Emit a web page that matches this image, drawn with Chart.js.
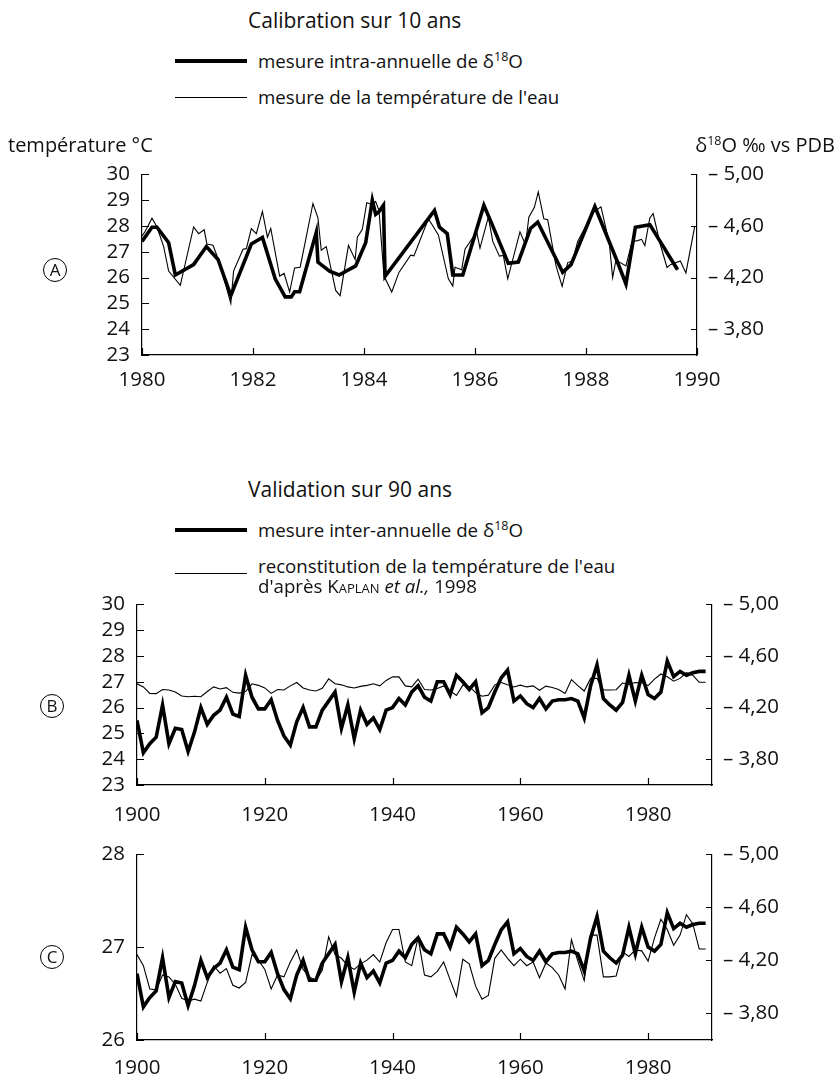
<!DOCTYPE html>
<html lang="fr">
<head>
<meta charset="utf-8">
<script src="https://cdn.jsdelivr.net/npm/chart.js@4.4.1/dist/chart.umd.min.js"></script>
<style>
  body { margin: 0; width: 837px; height: 1080px; background: #fff; font-family: "Open Sans", sans-serif; color: #111; position: relative; overflow: hidden; }
  .t { position: absolute; font-size: 18.7px; white-space: nowrap; line-height: 1; transform: translateY(-50%); }
  .t.big { font-size: 21px; }
  .t.ax { font-size: 20px; }
  .t sup { font-size: 12.5px; vertical-align: 7px; line-height: 0; }
  .ln { position: absolute; left: 175px; width: 72px; background: #000; }
  canvas { position: absolute; left: 0; }
  .circ { position: absolute; width: 22px; height: 22px; border: 1px solid #000; border-radius: 50%; font-size: 17px; text-align: center; line-height: 22px; transform: translate(-50%, -50%); }
</style>
</head>
<body>
<canvas id="chartA" width="837" height="250" style="top:150px"></canvas>
<canvas id="chartB" width="837" height="250" style="top:580px"></canvas>
<canvas id="chartC" width="837" height="250" style="top:830px"></canvas>

<div class="t big" style="left:248px; top:20px">Calibration sur 10 ans</div>
<div class="ln" style="top:59px; height:4px"></div>
<div class="t" style="left:258px; top:61px">mesure intra-annuelle de δ<sup>18</sup>O</div>
<div class="ln" style="top:97px; height:1px"></div>
<div class="t" style="left:258px; top:97px">mesure de la température de l'eau</div>
<div class="t ax" style="left:8px; top:145px">température °C</div>
<div class="t ax" style="right:2px; top:145px">δ<sup>18</sup>O ‰ vs PDB</div>
<div class="circ" style="left:55px; top:270px">A</div>

<div class="t big" style="left:248px; top:489px">Validation sur 90 ans</div>
<div class="ln" style="top:528px; height:4px"></div>
<div class="t" style="left:258px; top:530px">mesure inter-annuelle de δ<sup>18</sup>O</div>
<div class="ln" style="top:573px; height:1px"></div>
<div class="t" style="left:258px; top:566px">reconstitution de la température de l'eau</div>
<div class="t" style="left:258px; top:586px">d'après <span style="font-variant:small-caps">Kaplan</span> <i>et al.,</i> 1998</div>
<div class="circ" style="left:52px; top:706px">B</div>
<div class="circ" style="left:52px; top:957px">C</div>

<script>
// Calibration 1980-1990 : d18O intra-annuel (permil) et temperature mesuree (degC)
const aIsoYears = [1980.0, 1980.18, 1980.27, 1980.48, 1980.6, 1980.93, 1981.16, 1981.37, 1981.6, 1981.97,
    1982.17, 1982.4, 1982.58, 1982.69, 1982.75, 1982.84, 1983.14, 1983.17, 1983.38, 1983.55,
    1983.85, 1984.03, 1984.15, 1984.21, 1984.27, 1984.35, 1984.38, 1985.27, 1985.36, 1985.5,
    1985.6, 1985.78, 1986.16, 1986.3, 1986.6, 1986.78, 1987.0, 1987.13, 1987.58, 1987.73,
    1988.16, 1988.54, 1988.72, 1988.89, 1989.15, 1989.65];
const aIso = [-4.48, -4.59, -4.59, -4.47, -4.22, -4.30, -4.44, -4.34, -4.06, -4.46,
    -4.51, -4.19, -4.05, -4.05, -4.09, -4.09, -4.55, -4.32, -4.25, -4.22,
    -4.29, -4.47, -4.80, -4.69, -4.71, -4.76, -4.21, -4.72, -4.59, -4.54,
    -4.22, -4.22, -4.76, -4.62, -4.31, -4.32, -4.58, -4.63, -4.24, -4.30,
    -4.75, -4.35, -4.15, -4.59, -4.61, -4.26];

const aTempYears = [1980.0, 1980.06, 1980.18, 1980.27, 1980.39, 1980.48, 1980.69, 1980.93, 1981.02, 1981.12,
    1981.17, 1981.28, 1981.4, 1981.6, 1981.65, 1981.82, 1981.88, 1981.97, 1982.06, 1982.17,
    1982.26, 1982.32, 1982.48, 1982.56, 1982.66, 1982.75, 1982.85, 1983.08, 1983.17, 1983.23,
    1983.32, 1983.49, 1983.57, 1983.72, 1983.84, 1983.88, 1983.97, 1984.05, 1984.13, 1984.21,
    1984.27, 1984.36, 1984.5, 1984.63, 1984.84, 1984.9, 1985.16, 1985.34, 1985.52, 1985.6,
    1985.64, 1985.76, 1985.82, 1986.03, 1986.09, 1986.24, 1986.32, 1986.44, 1986.51, 1986.59,
    1986.81, 1986.91, 1986.97, 1987.07, 1987.14, 1987.24, 1987.31, 1987.46, 1987.57, 1987.67,
    1987.76, 1987.85, 1988.13, 1988.27, 1988.42, 1988.48, 1988.54, 1988.72, 1988.83, 1988.93,
    1989.0, 1989.06, 1989.15, 1989.21, 1989.34, 1989.46, 1989.52, 1989.7, 1989.8, 1989.96];
const aTemp = [27.6, 27.8, 28.3, 27.96, 27.2, 26.25, 25.7, 27.96, 27.7, 27.85,
    27.3, 27.25, 26.56, 25.0, 26.25, 27.1, 27.12, 27.9, 27.7, 28.56,
    27.56, 27.9, 26.06, 26.16, 25.44, 26.37, 26.4, 28.87, 28.31, 27.06,
    27.2, 25.5, 25.3, 27.25, 26.7, 27.56, 27.87, 28.9, 28.84, 28.94,
    28.6, 26.06, 25.44, 26.2, 26.87, 26.84, 28.28, 27.65, 25.95, 25.67,
    26.4, 26.3, 27.1, 27.77, 27.14, 28.34, 27.4, 26.83, 26.86, 25.95,
    27.77, 27.27, 28.34, 28.72, 29.32, 28.28, 28.24, 26.45, 25.66, 26.58,
    26.64, 27.4, 28.53, 28.74, 27.33, 26.0, 26.68, 26.45, 27.4, 27.43,
    27.48, 27.24, 28.31, 28.48, 27.27, 26.39, 26.5, 26.64, 26.18, 27.99];

// Validation 1900-1989 : d18O inter-annuel et reconstitution Kaplan et al. 1998
const years = [1900, 1901, 1902, 1903, 1904, 1905, 1906, 1907, 1908, 1909,
    1910, 1911, 1912, 1913, 1914, 1915, 1916, 1917, 1918, 1919,
    1920, 1921, 1922, 1923, 1924, 1925, 1926, 1927, 1928, 1929,
    1930, 1931, 1932, 1933, 1934, 1935, 1936, 1937, 1938, 1939,
    1940, 1941, 1942, 1943, 1944, 1945, 1946, 1947, 1948, 1949,
    1950, 1951, 1952, 1953, 1954, 1955, 1956, 1957, 1958, 1959,
    1960, 1961, 1962, 1963, 1964, 1965, 1966, 1967, 1968, 1969,
    1970, 1971, 1972, 1973, 1974, 1975, 1976, 1977, 1978, 1979,
    1980, 1981, 1982, 1983, 1984, 1985, 1986, 1987, 1988, 1989];
const isoAnnual = [-4.10, -3.85, -3.92, -3.97, -4.22, -3.92, -4.04, -4.03, -3.86, -4.01,
    -4.20, -4.07, -4.14, -4.18, -4.28, -4.15, -4.13, -4.45, -4.28, -4.19,
    -4.19, -4.26, -4.10, -3.98, -3.91, -4.09, -4.20, -4.05, -4.05, -4.18,
    -4.25, -4.32, -4.04, -4.22, -3.96, -4.18, -4.07, -4.12, -4.03, -4.18,
    -4.20, -4.27, -4.22, -4.32, -4.37, -4.28, -4.25, -4.40, -4.40, -4.30,
    -4.45, -4.40, -4.34, -4.40, -4.16, -4.20, -4.32, -4.43, -4.49, -4.25,
    -4.29, -4.23, -4.20, -4.27, -4.19, -4.25, -4.26, -4.26, -4.27, -4.25,
    -4.12, -4.37, -4.53, -4.27, -4.22, -4.18, -4.24, -4.45, -4.25, -4.45,
    -4.30, -4.27, -4.32, -4.56, -4.44, -4.48, -4.45, -4.47, -4.48, -4.48];
const kaplanTemp = [26.92, 26.80, 26.55, 26.54, 26.70, 26.68, 26.60, 26.45, 26.42, 26.44,
    26.42, 26.62, 26.80, 26.72, 26.77, 26.59, 26.56, 26.62, 26.92, 26.86,
    26.76, 26.55, 26.70, 26.68, 26.84, 26.97, 26.76, 26.68, 26.64, 26.75,
    27.11, 26.92, 26.88, 26.80, 26.76, 26.82, 26.86, 26.92, 26.84, 27.05,
    27.19, 27.19, 26.84, 26.80, 27.10, 26.70, 26.68, 26.74, 26.84, 26.65,
    26.47, 26.87, 26.82, 26.58, 26.44, 26.48, 26.88, 26.97, 26.88, 26.80,
    26.87, 26.80, 26.84, 26.67, 26.83, 26.78, 26.70, 26.55, 27.08, 26.85,
    26.64, 27.13, 27.13, 26.68, 26.68, 26.69, 26.95, 26.90, 26.97, 26.96,
    26.85, 27.10, 27.30, 27.19, 27.02, 27.13, 27.35, 27.25, 26.98, 26.98];

// graduations
const aXTicks = [1980, 1982, 1984, 1986, 1988, 1990];
const bXTicks = [1900, 1920, 1940, 1960, 1980];
const tempTicksAB = [23, 24, 25, 26, 27, 28, 29, 30];
const tempTicksC = [26, 27, 28];
const isoTicks = [-5.0, -4.6, -4.2, -3.8];
const isoTickLabels = ['– 5,00', '– 4,60', '– 4,20', '– 3,80'];

const tickFont = { family: 'Open Sans', size: 20.5 };
const ink = '#111';

const pts = (xs, ys) => xs.map((x, i) => ({ x: x, y: ys[i] }));
const setTicks = values => scale => { scale.ticks = values.map(v => ({ value: v })); };

// petites graduations tournees vers l'interieur
const inTicks = {
    id: 'inTicks',
    afterDraw(chart) {
        const { ctx, chartArea: a, scales } = chart;
        ctx.save();
        ctx.strokeStyle = '#000';
        ctx.lineWidth = 1.2;
        ctx.beginPath();
        scales.x.ticks.forEach(t => {
            const p = Math.round(scales.x.getPixelForValue(t.value)) + 0.5;
            ctx.moveTo(p, a.bottom);
            ctx.lineTo(p, a.bottom - 7);
        });
        scales.y.ticks.forEach(t => {
            const p = Math.round(scales.y.getPixelForValue(t.value)) + 0.5;
            ctx.moveTo(a.left, p);
            ctx.lineTo(a.left + 7, p);
        });
        scales.y1.ticks.forEach(t => {
            const p = Math.round(scales.y1.getPixelForValue(t.value)) + 0.5;
            ctx.moveTo(a.right, p);
            ctx.lineTo(a.right - 6, p);
        });
        ctx.stroke();
        ctx.restore();
    }
};

function makePanel(id, cfg) {
    return new Chart(document.getElementById(id), {
        type: 'line',
        data: {
            datasets: [
                { data: pts(cfg.isoX, cfg.iso), yAxisID: 'y1', borderColor: '#000', borderWidth: 3.6, pointRadius: 0, tension: 0 },
                { data: pts(cfg.tempX, cfg.temp), yAxisID: 'y', borderColor: '#000', borderWidth: 1.1, pointRadius: 0, tension: 0 }
            ]
        },
        options: {
            responsive: false,
            animation: false,
            events: [],
            layout: { padding: { top: cfg.padTop } },
            plugins: { legend: { display: false }, tooltip: { enabled: false } },
            scales: {
                x: {
                    type: 'linear', min: cfg.xMin, max: cfg.xMax,
                    afterBuildTicks: setTicks(cfg.xTicks),
                    afterFit: s => { s.height = cfg.xAxisH; },
                    grid: { display: false, drawTicks: false },
                    border: { color: '#000', width: 1.2 },
                    ticks: { padding: cfg.xPad, font: tickFont, color: ink, autoSkip: false, maxRotation: 0, callback: v => String(v) }
                },
                y: {
                    position: 'left', min: cfg.tMin, max: cfg.tMax,
                    afterBuildTicks: setTicks(cfg.tTicks),
                    afterFit: s => { s.width = cfg.left; },
                    grid: { display: false, drawTicks: false },
                    border: { color: '#000', width: 1.2 },
                    ticks: { padding: 12, font: tickFont, color: ink, autoSkip: false, callback: v => String(v) }
                },
                y1: {
                    position: 'right', reverse: true, min: -5.0, max: -3.6,
                    afterBuildTicks: setTicks(isoTicks),
                    afterFit: s => { s.width = 837 - cfg.right; },
                    grid: { display: false, drawTicks: false },
                    border: { color: '#000', width: 1.2 },
                    ticks: { padding: 11, font: tickFont, color: ink, autoSkip: false, callback: (v, i) => isoTickLabels[i] }
                }
            }
        },
        plugins: [inTicks]
    });
}

makePanel('chartA', {
    isoX: aIsoYears, iso: aIso, tempX: aTempYears, temp: aTemp,
    xMin: 1980, xMax: 1990, xTicks: aXTicks, tMin: 23, tMax: 30, tTicks: tempTicksAB,
    padTop: 18, xAxisH: 45, xPad: 13, left: 142, right: 697
});
makePanel('chartB', {
    isoX: years, iso: isoAnnual, tempX: years, temp: kaplanTemp,
    xMin: 1900, xMax: 1990, xTicks: bXTicks, tMin: 23, tMax: 30, tTicks: tempTicksAB,
    padTop: 20, xAxisH: 45, xPad: 18, left: 137, right: 712
});
makePanel('chartC', {
    isoX: years, iso: isoAnnual, tempX: years, temp: kaplanTemp,
    xMin: 1900, xMax: 1990, xTicks: bXTicks, tMin: 26, tMax: 28, tTicks: tempTicksC,
    padTop: 21, xAxisH: 40, xPad: 16, left: 137, right: 712
});
</script>
</body>
</html>
